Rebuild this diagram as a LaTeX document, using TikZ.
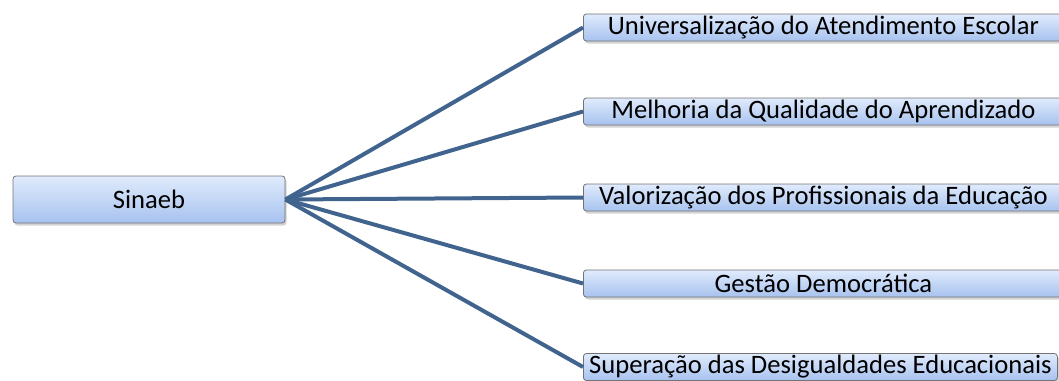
\documentclass[tikz,border=0pt]{standalone}
\usepackage{fontspec}
\setmainfont{Carlito}
\usepackage{tikz}
\usetikzlibrary{positioning, shadows}

\definecolor{linkblue}{HTML}{41648F}
\definecolor{boxtop}{HTML}{E0EBFC}
\definecolor{boxbot}{HTML}{A7C2EF}
\tikzset{
  box/.style={draw=black!55, line width=0.8pt, rounded corners=3pt,
    top color=boxtop, bottom color=boxbot,
    drop shadow={shadow xshift=1.5pt, shadow yshift=-2.5pt, opacity=0.35},
    inner sep=0pt, font=\fontsize{26.6}{30}\selectfont},
  goal/.style={box, anchor=west, minimum height=27pt, minimum width=480pt},
  link/.style={draw=linkblue, line width=4pt}
}

\begin{document}
\begin{tikzpicture}[x=1pt, y=-1pt]
\useasboundingbox (0,0) rectangle (1059,380);
\node[box, minimum width=272pt, minimum height=47pt] (sinaeb) at (149,199.5){Sinaeb};
\node[goal] (univ) at (583,27.5){Universalização do Atendimento Escolar};
\node[goal] (qual) at (583,111.5){Melhoria da Qualidade do Aprendizado};
\node[goal] (valor) at (583,197.5){Valorização dos Profissionais da Educação};
\node[goal] (gest) at (583,283.5){Gestão Democrática};
\node[goal, minimum width=474pt] (super) at (583,367){Superação das Desigualdades Educacionais};
\draw[link] (sinaeb.east) -- (univ.west);
\draw[link] (sinaeb.east) -- (qual.west);
\draw[link] (sinaeb.east) -- (valor.west);
\draw[link] (sinaeb.east) -- (gest.west);
\draw[link] (sinaeb.east) -- (super.west);
\end{tikzpicture}
\end{document}
